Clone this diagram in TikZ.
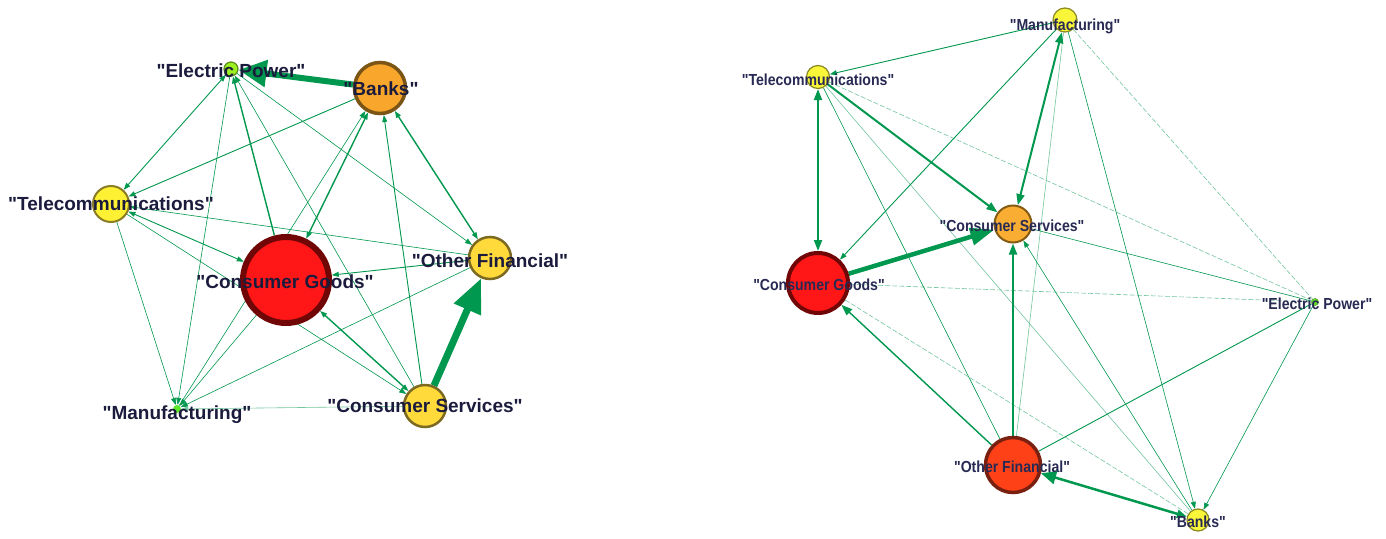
\documentclass[tikz,border=0pt]{standalone}
\usepackage{fontspec}
\setmainfont{Liberation Sans}
\newfontfamily\labelsans{Liberation Sans}
\newfontfamily\narrowsans[FakeStretch=0.88]{Liberation Sans}
\usetikzlibrary{arrows.meta}
\definecolor{eg}{RGB}{0,152,78}
\definecolor{labc}{RGB}{27,27,61}
\definecolor{labr}{RGB}{40,42,84}
% node colours
\definecolor{redF}{RGB}{255,22,22}\definecolor{redD}{RGB}{112,6,6}
\definecolor{orF}{RGB}{248,166,44}\definecolor{orD}{RGB}{123,85,21}
\definecolor{yeF}{RGB}{254,240,51}\definecolor{yeD}{RGB}{138,125,37}
\definecolor{goF}{RGB}{255,218,58}\definecolor{goD}{RGB}{125,106,34}
\definecolor{liF}{RGB}{156,240,34}\definecolor{liD}{RGB}{90,140,24}
\definecolor{liM}{RGB}{94,230,42}
\definecolor{ryF}{RGB}{249,246,58}\definecolor{ryD}{RGB}{138,136,32}
\definecolor{rsF}{RGB}{249,174,51}\definecolor{rsD}{RGB}{132,91,18}
\definecolor{roF}{RGB}{255,65,24}\definecolor{roD}{RGB}{122,32,16}
\pgfdeclarelayer{bg}
\pgfdeclarelayer{edges}
\pgfsetlayers{bg,edges,main}
\begin{document}
\begin{tikzpicture}[x=1pt,y=-1pt,
  vtx/.style={circle,inner sep=0pt},
  lab/.style={inner sep=0pt,text height=13.6pt,text depth=0pt,text=labc,
    font=\labelsans\bfseries\fontsize{19}{19}\selectfont},
  rlab/.style={inner sep=0pt,text height=11.4pt,text depth=0pt,text=labr,
    font=\narrowsans\bfseries\fontsize{16}{16}\selectfont},
  w0/.style={draw=eg,line width=0.6pt},
  w1/.style={draw=eg,line width=0.9pt},
  w2/.style={draw=eg,line width=1.4pt},
  w3/.style={draw=eg,line width=2pt},
  faint/.style={draw=eg!55,line width=0.6pt},
  dashfaint/.style={draw=eg!55,line width=0.6pt,dash pattern=on 5pt off 2pt},
  fwd/.style={-{Triangle[length=7pt,width=5pt]}},
  both/.style={{Triangle[length=7pt,width=5pt]}-{Triangle[length=7pt,width=5pt]}},
  fwdm/.style={-{Triangle[length=11pt,width=8pt]}},
  bothm/.style={{Triangle[length=11pt,width=8pt]}-{Triangle[length=11pt,width=8pt]}}
]
\begin{pgfonlayer}{bg}
\fill[white] (0,0) rectangle (1386,538);
\end{pgfonlayer}
\useasboundingbox (0,0) rectangle (1386,538);

% ---------------- left network ----------------
\node[vtx,fill=liF,draw=liD,line width=1.2pt,minimum size=14pt] (EP) at (231,69) {};
\node[vtx,fill=orF,draw=orD,line width=3.5pt,minimum size=51pt] (B) at (380,88) {};
\node[vtx,fill=yeF,draw=yeD,line width=2pt,minimum size=36pt] (T) at (111,204) {};
\node[vtx,fill=redF,draw=redD,line width=6pt,minimum size=86pt] (CG) at (286,280) {};
\node[vtx,fill=goF,draw=goD,line width=2.5pt,minimum size=42pt] (OF) at (490,258) {};
\node[vtx,fill=goF,draw=goD,line width=2.5pt,minimum size=42pt] (CS) at (425,406) {};
\node[vtx,fill=liM,minimum size=8pt] (M) at (177,409) {};

\node[lab] (EPl) at (231,71) {"Electric Power"};
\node[lab] (Bl) at (381,89) {"Banks"};
\node[lab] (Tl) at (111,204) {"Telecommunications"};
\node[lab] (CGl) at (285,282) {"Consumer Goods"};
\node[lab] (OFl) at (490,261) {"Other Financial"};
\node[lab] (CSl) at (425,406) {"Consumer Services"};
\node[lab] (Ml) at (177,413) {"Manufacturing"};

% ---------------- right network ----------------
\node[vtx,fill=ryF,draw=ryD,line width=1.2pt,minimum size=24pt] (rM) at (1065,20) {};
\node[vtx,fill=ryF,draw=ryD,line width=1.2pt,minimum size=23pt] (rT) at (818,77) {};
\node[vtx,fill=rsF,draw=rsD,line width=2pt,minimum size=37pt] (rCS) at (1013,224) {};
\node[vtx,fill=redF,draw=redD,line width=4pt,minimum size=60pt] (rCG) at (818,283) {};
\node[vtx,fill=liM,draw=liD,line width=0.5pt,minimum size=7pt] (rEP) at (1315,302) {};
\node[vtx,fill=roF,draw=roD,line width=3.5pt,minimum size=55pt] (rOF) at (1013,465) {};
\node[vtx,fill=ryF,draw=ryD,line width=1.2pt,minimum size=22pt] (rB) at (1198,520) {};

\node[rlab] (rMl) at (1065,25) {"Manufacturing"};
\node[rlab] (rTl) at (818,80) {"Telecommunications"};
\node[rlab] (rCSl) at (1012,226) {"Consumer Services"};
\node[rlab] (rCGl) at (819,285) {"Consumer Goods"};
\node[rlab] (rEPl) at (1317,304) {"Electric Power"};
\node[rlab] (rOFl) at (1012,467) {"Other Financial"};
\node[rlab] (rBl) at (1198,522) {"Banks"};

\begin{pgfonlayer}{edges}
% left connectors
\draw[w0,fwd] (EP) -- (M);
\draw[w0,fwd] (CS) -- (EP);
\draw[w0,fwd] (EP) -- (OF);
\draw[w1,both] (EP) -- (T);
\draw[w1,fwd] (B) -- (T);
\draw[w2,fwd] (CG) -- (EP);
\draw[w2,both] (B) -- (OF);
\draw[w1,fwd] (CS) -- (B);
\draw[w2,both] (CG) -- (B);
\draw[w0,fwd] (M) -- (B);
\draw[w1,both] (T) -- (CG);
\draw[w0,fwd] (T) -- (CS);
\draw[w0,fwd] (T) -- (M);
\draw[w0,fwd] (OF) -- (T);
\draw[w1,fwd] (OF) -- (CG);
\draw[w0,fwd] (OF) -- (M);
\draw[w2,both] (CG) -- (CS);
\draw[w0,fwd] (CG) -- (M);
\draw[faint,fwd] (CS) -- (M);
\draw[draw=eg,line width=6pt,-{Triangle[length=28pt,width=26pt]}] (B) -- (EP);
\draw[draw=eg,line width=7pt,-{Triangle[length=34pt,width=28pt]}] (CS) -- (OF);

% right connectors
\draw[dashfaint] (rM) -- (rEP);
\draw[dashfaint] (rT) -- (rEP);
\draw[dashfaint] (rCG) -- (rEP);
\draw[dashfaint] (rCG) -- (rB);
\draw[faint] (rT) -- (rB);
\draw[faint] (rM) -- (rOF);
\draw[w0] (rCS) -- (rEP);
\draw[w0] (rT) -- (rOF);
\draw[w0,fwd] (rM) -- (rB);
\draw[w0,fwd] (rEP) -- (rB);
\draw[w0,fwd] (rB) -- (rCS);
\draw[w1] (rOF) -- (rEP);
\draw[w1,fwd] (rM) -- (rT);
\draw[w1,fwd] (rM) -- (rCG);
\draw[w2,fwdm] (rOF) -- (rCG);
\draw[w3,bothm] (rT) -- (rCG);
\draw[w3,fwdm] (rT) -- (rCS);
\draw[w3,bothm] (rM) -- (rCS);
\draw[w3,fwdm] (rOF) -- (rCS);
\draw[draw=eg,line width=2.5pt,{Triangle[length=10pt,width=8pt]}-{Triangle[length=15pt,width=13pt]}] (rB) -- (rOF);
\draw[draw=eg,line width=4.5pt,-{Triangle[length=24pt,width=17pt]}] (rCG) -- (rCS);
\end{pgfonlayer}
\end{tikzpicture}
\end{document}
